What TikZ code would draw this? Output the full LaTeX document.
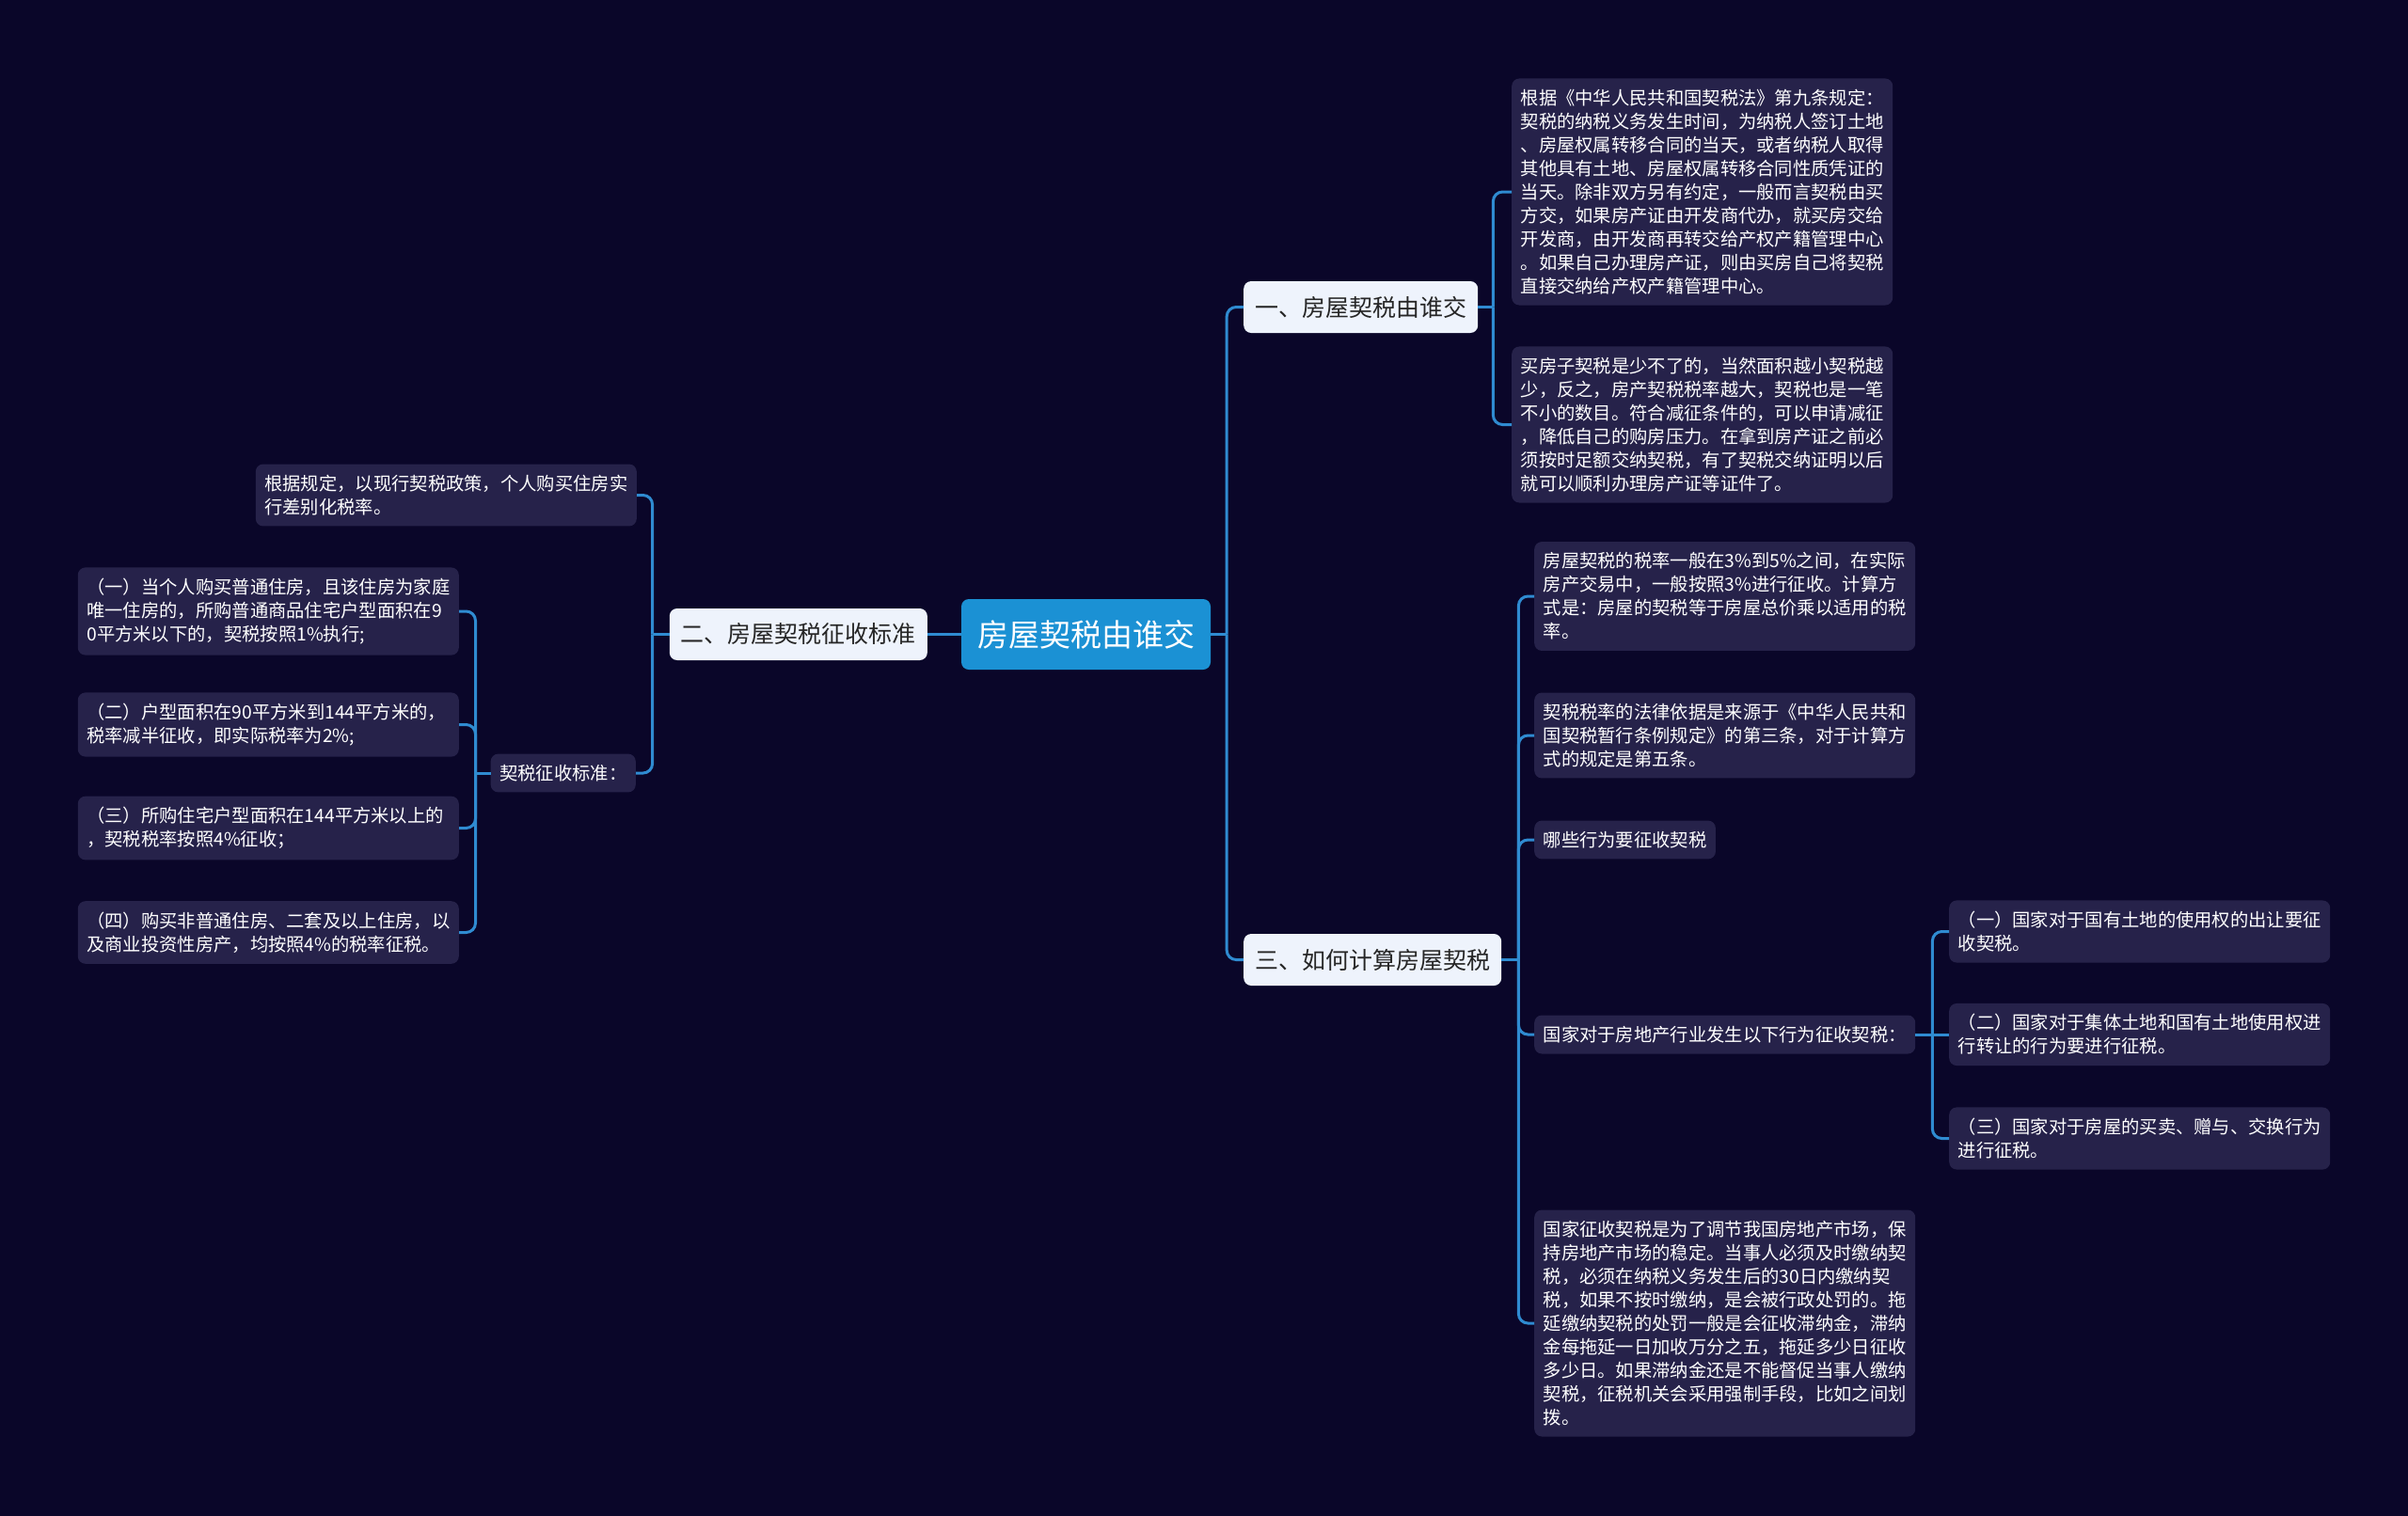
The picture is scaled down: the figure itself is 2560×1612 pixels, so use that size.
\documentclass[tikz,border=0pt]{standalone}
\usepackage{fontspec}
\newfontfamily\cjk{Noto Sans CJK SC}
\usepackage{tikz}
\usetikzlibrary{positioning}
\definecolor{pagebg}{HTML}{0A0629}
\definecolor{rootbg}{HTML}{1B91D4}
\definecolor{topicbg}{HTML}{EEF3FC}
\definecolor{leafbg}{HTML}{26224A}
\definecolor{linkc}{HTML}{2F8BD1}
\tikzset{
  rootnode/.style={fill=rootbg,rounded corners=8pt,text=white,
                   minimum width=265pt,minimum height=75pt,inner sep=0pt,
                   font=\cjk\fontsize{33}{40}\selectfont},
  topic/.style={fill=topicbg,rounded corners=8pt,text=black!85,
                minimum height=55pt,inner xsep=12pt,
                font=\cjk\fontsize{25}{30}\selectfont},
  leaf/.style={fill=leafbg,rounded corners=8pt,text=white,
               inner xsep=9.5pt,inner ysep=11.5pt,align=left,
               font=\cjk\fontsize{19.3}{25}\selectfont},
  wide/.style={leaf,text width=386pt},
  link/.style={draw=linkc,line width=3pt,rounded corners=10pt},
}

\begin{document}
\begin{tikzpicture}[x=1pt,y=-1pt]
  \fill[pagebg] (0,0) rectangle (2560,1612);
  % centre and main topics
  \node[rootnode] (root) at (1154.5,674.5) {房屋契税由谁交};
  \node[topic,anchor=east] (t2) at (986,674.5) {二、房屋契税征收标准};
  \node[topic,anchor=west] (t1) at (1322,326.5) {一、房屋契税由谁交};
  \node[topic,anchor=west] (t3) at (1322,1020.5) {三、如何计算房屋契税};

  % topic one
  \node[wide,anchor=west] (a1) at (1607,204) {根据《中华人民共和国契税法》第九条规定：\\
    契税的纳税义务发生时间，为纳税人签订土地\\
    、房屋权属转移合同的当天，或者纳税人取得\\
    其他具有土地、房屋权属转移合同性质凭证的\\
    当天。除非双方另有约定，一般而言契税由买\\
    方交，如果房产证由开发商代办，就买房交给\\
    开发商，由开发商再转交给产权产籍管理中心\\
    。如果自己办理房产证，则由买房自己将契税\\
    直接交纳给产权产籍管理中心。};
  \node[wide,anchor=west] (a2) at (1607,451.5) {买房子契税是少不了的，当然面积越小契税越\\
    少，反之，房产契税税率越大，契税也是一笔\\
    不小的数目。符合减征条件的，可以申请减征\\
    ，降低自己的购房压力。在拿到房产证之前必\\
    须按时足额交纳契税，有了契税交纳证明以后\\
    就可以顺利办理房产证等证件了。};

  % topic three
  \node[wide,anchor=west] (c1) at (1631,634) {房屋契税的税率一般在3\%到5\%之间，在实际\\
    房产交易中，一般按照3\%进行征收。计算方\\
    式是：房屋的契税等于房屋总价乘以适用的税\\
    率。};
  \node[wide,anchor=west] (c2) at (1631,782) {契税税率的法律依据是来源于《中华人民共和\\
    国契税暂行条例规定》的第三条，对于计算方\\
    式的规定是第五条。};
  \node[leaf,anchor=west] (c3) at (1631,893) {哪些行为要征收契税};
  \node[leaf,anchor=west] (c4) at (1631,1100) {国家对于房地产行业发生以下行为征收契税：};
  \node[wide,anchor=west] (c5) at (1631,1407) {国家征收契税是为了调节我国房地产市场，保\\
    持房地产市场的稳定。当事人必须及时缴纳契\\
    税，必须在纳税义务发生后的30日内缴纳契\\
    税，如果不按时缴纳，是会被行政处罚的。拖\\
    延缴纳契税的处罚一般是会征收滞纳金，滞纳\\
    金每拖延一日加收万分之五，拖延多少日征收\\
    多少日。如果滞纳金还是不能督促当事人缴纳\\
    契税，征税机关会采用强制手段，比如之间划\\
    拨。};
  \node[wide,anchor=west] (d1) at (2072,990.5) {（一）国家对于国有土地的使用权的出让要征\\
    收契税。};
  \node[wide,anchor=west] (d2) at (2072,1100) {（二）国家对于集体土地和国有土地使用权进\\
    行转让的行为要进行征税。};
  \node[wide,anchor=west] (d3) at (2072,1210.5) {（三）国家对于房屋的买卖、赠与、交换行为\\
    进行征税。};

  % topic two
  \node[wide,anchor=east] (b1) at (677,526.5) {根据规定，以现行契税政策，个人购买住房实\\
    行差别化税率。};
  \node[leaf,anchor=east] (b2) at (676,822) {契税征收标准：};
  \node[wide,anchor=east] (e1) at (488,650) {（一）当个人购买普通住房，且该住房为家庭\\
    唯一住房的，所购普通商品住宅户型面积在9\\
    0平方米以下的，契税按照1\%执行;};
  \node[wide,anchor=east] (e2) at (488,770.5) {（二）户型面积在90平方米到144平方米的，\\
    税率减半征收，即实际税率为2\%;};
  \node[wide,anchor=east] (e3) at (488,880.5) {（三）所购住宅户型面积在144平方米以上的\\
    ，契税税率按照4\%征收；};
  \node[wide,anchor=east] (e4) at (488,991.5) {（四）购买非普通住房、二套及以上住房，以\\
    及商业投资性房产，均按照4\%的税率征税。};

  % junctions
  \coordinate (jr) at ([xshift=17pt]root.east);
  \coordinate (jt1) at ([xshift=16pt]t1.east);
  \coordinate (jt3) at ([xshift=18pt]t3.east);
  \coordinate (jc4) at ([xshift=18pt]c4.east);
  \coordinate (jt2) at ([xshift=-18pt]t2.west);
  \coordinate (jb2) at ([xshift=-16pt]b2.west);

  % connectors
  \draw[link] (root.east) -- (jr);
  \foreach \n in {t1,t3} \draw[link] (jr) |- (\n.west);
  \draw[link] (root.west) -- (t2.east);
  \draw[link] (t1.east) -- (jt1);
  \foreach \n in {a1,a2} \draw[link] (jt1) |- (\n.west);
  \draw[link] (t3.east) -- (jt3);
  \foreach \n in {c1,c2,c3,c4,c5} \draw[link] (jt3) |- (\n.west);
  \draw[link] (c4.east) -- (jc4);
  \draw[link] (jc4) -- (d2.west);
  \foreach \n in {d1,d3} \draw[link] (jc4) |- (\n.west);
  \draw[link] (t2.west) -- (jt2);
  \foreach \n in {b1,b2} \draw[link] (jt2) |- (\n.east);
  \draw[link] (b2.west) -- (jb2);
  \foreach \n in {e1,e2,e3,e4} \draw[link] (jb2) |- (\n.east);
\end{tikzpicture}
\end{document}
